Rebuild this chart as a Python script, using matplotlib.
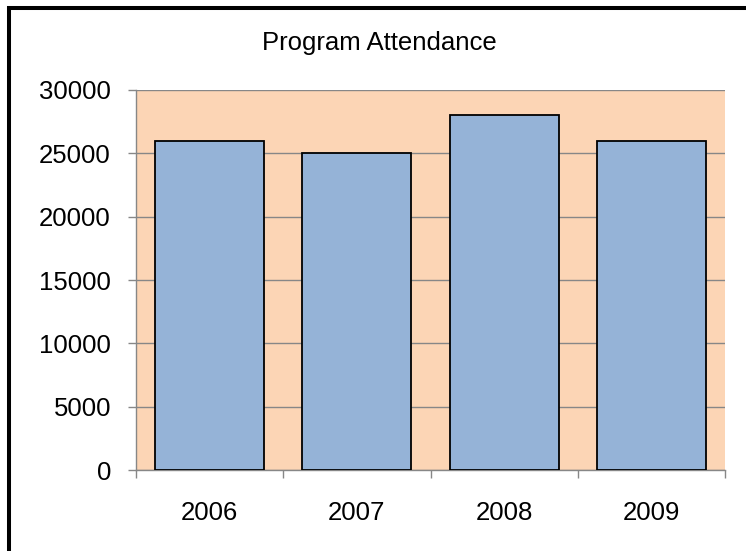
import matplotlib.pyplot as plt
from matplotlib.patches import Rectangle
import numpy as np

plt.rcParams['font.family'] = ['Liberation Sans', 'DejaVu Sans']

years = ['2006', '2007', '2008', '2009']
attendance = [26000, 25000, 28000, 26000]
y_ticks = [0, 5000, 10000, 15000, 20000, 25000, 30000]

W, H = 746, 551
fig = plt.figure(figsize=(W / 100, H / 100), dpi=100)
ax = fig.add_axes([136 / W, 1 - 470 / H, (725 - 136) / W, (470 - 90) / H])

grid_col = '#878787'
ax.set_facecolor('#FCD5B5')

x = np.arange(len(years))
ax.bar(x, attendance, width=0.74, color='#95B3D7', edgecolor='black',
       linewidth=1.3, zorder=3)

ax.set_xlim(-0.5, len(years) - 0.5)
ax.set_ylim(0, 30000)
ax.set_yticks(y_ticks)
ax.set_yticklabels([str(v) for v in y_ticks])
ax.yaxis.grid(True, color=grid_col, linewidth=1.0, zorder=1)
ax.set_axisbelow(True)

# year labels sit between the boundary ticks
ax.set_xticks(x)
ax.set_xticklabels(years)
ax.set_xticks(np.arange(len(years) + 1) - 0.5, minor=True)
ax.tick_params(axis='x', which='major', length=0, pad=22, labelsize=18.5)
ax.tick_params(axis='x', which='minor', length=6, width=1.0, color=grid_col)
ax.tick_params(axis='y', length=6, width=1.0, color=grid_col, pad=12,
               labelsize=18.5)

for side in ('top', 'right'):
    ax.spines[side].set_visible(False)
for side in ('left', 'bottom'):
    ax.spines[side].set_color(grid_col)
    ax.spines[side].set_linewidth(1.0)

fig.text(379 / W, 1 - 43 / H, 'Program Attendance', ha='center', va='center',
         fontsize=18.5)

# outer frame of the chart
fig.patches.append(Rectangle((8.5 / W, -0.1), 2, 1 - 8 / H + 0.1,
                             transform=fig.transFigure, fill=False,
                             edgecolor='black', linewidth=2.9))

fig.savefig('out.png', dpi=100)
